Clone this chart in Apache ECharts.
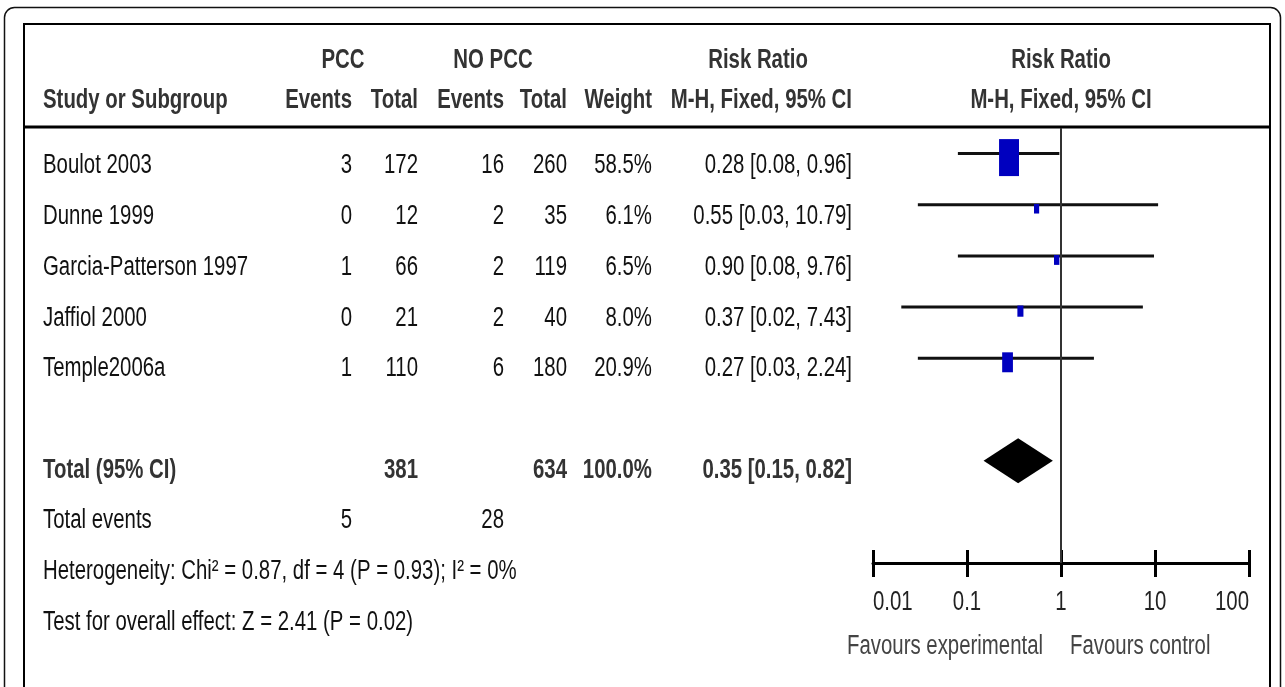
<!DOCTYPE html>
<html>
<head>
<meta charset="utf-8">
<title>Risk Ratio forest plot</title>
<script src="https://cdn.jsdelivr.net/npm/echarts@6/dist/echarts.min.js"></script>
<style>
  html, body { margin: 0; padding: 0; background: #fff; }
  #chart { width: 1285px; height: 687px; }
</style>
</head>
<body>
<div id="chart"></div>
<script>
// ---- Study data ----
const studies   = ['Boulot 2003', 'Dunne 1999', 'Garcia-Patterson 1997', 'Jaffiol 2000', 'Temple2006a'];
const pccEvents = [3, 0, 1, 0, 1];
const pccTotal  = [172, 12, 66, 21, 110];
const noEvents  = [16, 2, 2, 2, 6];
const noTotal   = [260, 35, 119, 40, 180];
const weights   = [58.5, 6.1, 6.5, 8.0, 20.9];
const riskRatio = [0.28, 0.55, 0.90, 0.37, 0.27];
const ciLower   = [0.08, 0.03, 0.08, 0.02, 0.03];
const ciUpper   = [0.96, 10.79, 9.76, 7.43, 2.24];

// ---- Pooled result ----
const totalPcc      = 381;
const totalNo       = 634;
const totalWeight   = 100.0;
const totalRR       = 0.35;
const totalLower    = 0.15;
const totalUpper    = 0.82;
const eventsPcc     = 5;
const eventsNo      = 28;
const heterogeneity = 'Heterogeneity: Chi\u00B2 = 0.87, df = 4 (P = 0.93); I\u00B2 = 0%';
const overallEffect = 'Test for overall effect: Z = 2.41 (P = 0.02)';

// ---- Axis ----
const tickValues = [0.01, 0.1, 1, 10, 100];
const favoursLeft  = 'Favours experimental';
const favoursRight = 'Favours control';

// ---- Layout / style ----
const FONT = '"Liberation Sans", Arial, sans-serif';
const FS = 27;          // font size
const SX = 0.755;       // horizontal condensing of all text
const ROW_TOP = 166;    // centre of first table row
const ROW_STEP = 50.7;  // table row pitch
const COL = { pccEv: 352, pccTot: 418, noEv: 504, noTot: 567, weight: 652, ci: 852 };
const TOTAL_ROW = 6;    // plot row of the pooled diamond

const fmt2 = v => v.toFixed(2);
const ciText = (r, lo, hi) => fmt2(r) + ' [' + fmt2(lo) + ', ' + fmt2(hi) + ']';
const rowY = i => ROW_TOP + ROW_STEP * i;

function label(x, y, text, o = {}) {
  return {
    type: 'text', x: x, y: y, scaleX: SX, silent: true, z: 10,
    style: {
      text: String(text),
      fontFamily: FONT,
      fontSize: o.size || FS,
      fontWeight: o.bold ? 'bold' : 'normal',
      fill: o.color || '#111',
      align: o.align || 'left',
      verticalAlign: 'middle'
    }
  };
}

const chart = echarts.init(document.getElementById('chart'), null, { renderer: 'canvas' });

const axisCommon = {
  type: 'log', logBase: 10, min: 0.01, max: 100, position: 'bottom',
  axisLabel: { show: false }, splitLine: { show: false },
  minorTick: { show: false }, minorSplitLine: { show: false }
};

chart.setOption({
  animation: false,
  grid: { left: 873, right: 36, top: 128, bottom: 124 },
  xAxis: [
    Object.assign({}, axisCommon, {
      axisLine: { show: true, onZero: false, lineStyle: { color: '#000', width: 3 } },
      axisTick: { show: true, inside: false, length: 14, lineStyle: { color: '#000', width: 3 } }
    }),
    Object.assign({}, axisCommon, {
      axisLine: { show: false, onZero: false },
      axisTick: { show: true, inside: true, length: 13, lineStyle: { color: '#000', width: 3 } }
    })
  ],
  yAxis: { type: 'value', min: -0.5, max: 8, inverse: true, show: false },
  series: [
    {
      // individual studies: CI whisker + weighted box
      type: 'custom',
      xAxisIndex: 0,
      data: studies.map((s, i) => [ciLower[i], ciUpper[i], riskRatio[i], i, weights[i]]),
      encode: { x: [0, 1, 2], y: 3 },
      renderItem: function (params, api) {
        const r = api.value(3);
        const a = api.coord([api.value(0), r]);
        const b = api.coord([api.value(1), r]);
        const c = api.coord([api.value(2), r]);
        const h = 3.22 * Math.pow(api.value(4), 0.6);
        const w = h * 0.54;
        return {
          type: 'group',
          children: [
            { type: 'line', shape: { x1: a[0], y1: a[1], x2: b[0], y2: b[1] },
              style: { stroke: '#111', lineWidth: 3 } },
            { type: 'rect', shape: { x: c[0] - w / 2, y: c[1] + 4 - h / 2, width: w, height: h },
              style: { fill: '#0000bf' } }
          ]
        };
      },
      markLine: {
        silent: true, symbol: 'none', label: { show: false },
        lineStyle: { color: '#333', width: 2, type: 'solid' },
        data: [{ xAxis: 1 }]
      }
    },
    {
      // pooled estimate diamond
      type: 'custom',
      xAxisIndex: 0,
      data: [[totalLower, totalUpper, totalRR, TOTAL_ROW]],
      encode: { x: [0, 1, 2], y: 3 },
      renderItem: function (params, api) {
        const r = api.value(3);
        const a = api.coord([api.value(0), r]);
        const b = api.coord([api.value(1), r]);
        const c = api.coord([api.value(2), r]);
        const half = 22.5;
        return {
          type: 'polygon',
          shape: { points: [a, [c[0], c[1] - half], b, [c[0], c[1] + half]] },
          style: { fill: '#000' }
        };
      }
    }
  ]
});

// ---- Table text, frame and axis labels ----
const g = [];

// frames
g.push({ type: 'rect', silent: true, shape: { x: 4.5, y: 7.5, width: 1276, height: 720, r: 10 },
         style: { fill: 'none', stroke: '#111', lineWidth: 1.5 } });
g.push({ type: 'rect', silent: true, shape: { x: 24, y: 24, width: 1246, height: 720 },
         style: { fill: 'none', stroke: '#000', lineWidth: 2 } });
g.push({ type: 'line', silent: true, shape: { x1: 24, y1: 127, x2: 1270, y2: 127 },
         style: { stroke: '#000', lineWidth: 3 } });

// header
const H = { bold: true, color: '#333' };
g.push(label(343, 61, 'PCC', Object.assign({ align: 'center' }, H)));
g.push(label(493, 61, 'NO PCC', Object.assign({ align: 'center' }, H)));
g.push(label(758, 61, 'Risk Ratio', Object.assign({ align: 'center' }, H)));
g.push(label(1061, 61, 'Risk Ratio', Object.assign({ align: 'center' }, H)));
g.push(label(43, 101, 'Study or Subgroup', H));
g.push(label(COL.pccEv, 101, 'Events', Object.assign({ align: 'right' }, H)));
g.push(label(COL.pccTot, 101, 'Total', Object.assign({ align: 'right' }, H)));
g.push(label(COL.noEv, 101, 'Events', Object.assign({ align: 'right' }, H)));
g.push(label(COL.noTot, 101, 'Total', Object.assign({ align: 'right' }, H)));
g.push(label(COL.weight, 101, 'Weight', Object.assign({ align: 'right' }, H)));
g.push(label(COL.ci, 101, 'M-H, Fixed, 95% CI', Object.assign({ align: 'right' }, H)));
g.push(label(1061, 101, 'M-H, Fixed, 95% CI', Object.assign({ align: 'center' }, H)));

// study rows
studies.forEach((s, i) => {
  const y = rowY(i);
  g.push(label(43, y, s));
  g.push(label(COL.pccEv, y, pccEvents[i], { align: 'right' }));
  g.push(label(COL.pccTot, y, pccTotal[i], { align: 'right' }));
  g.push(label(COL.noEv, y, noEvents[i], { align: 'right' }));
  g.push(label(COL.noTot, y, noTotal[i], { align: 'right' }));
  g.push(label(COL.weight, y, weights[i].toFixed(1) + '%', { align: 'right' }));
  g.push(label(COL.ci, y, ciText(riskRatio[i], ciLower[i], ciUpper[i]), { align: 'right' }));
});

// pooled rows
const T = { bold: true, color: '#333' };
const yT = rowY(6);
g.push(label(43, yT, 'Total (95% CI)', T));
g.push(label(COL.pccTot, yT, totalPcc, Object.assign({ align: 'right' }, T)));
g.push(label(COL.noTot, yT, totalNo, Object.assign({ align: 'right' }, T)));
g.push(label(COL.weight, yT, totalWeight.toFixed(1) + '%', Object.assign({ align: 'right' }, T)));
g.push(label(COL.ci, yT, ciText(totalRR, totalLower, totalUpper), Object.assign({ align: 'right' }, T)));

g.push(label(43, rowY(7), 'Total events'));
g.push(label(COL.pccEv, rowY(7), eventsPcc, { align: 'right' }));
g.push(label(COL.noEv, rowY(7), eventsNo, { align: 'right' }));
g.push(label(43, rowY(8), heterogeneity));
g.push(label(43, rowY(9), overallEffect));

// axis tick labels, placed through the log axis
tickValues.forEach((v, i) => {
  const px = chart.convertToPixel({ xAxisIndex: 0 }, v);
  const align = i === 0 ? 'left' : (i === tickValues.length - 1 ? 'right' : 'center');
  g.push(label(px, 603, String(v), { align: align, color: '#222' }));
});
const xOne = chart.convertToPixel({ xAxisIndex: 0 }, 1);
g.push(label(xOne - 18, 647, favoursLeft, { align: 'right', color: '#444' }));
g.push(label(xOne + 9, 647, favoursRight, { align: 'left', color: '#444' }));

chart.setOption({ graphic: { elements: g } });
</script>
</body>
</html>
